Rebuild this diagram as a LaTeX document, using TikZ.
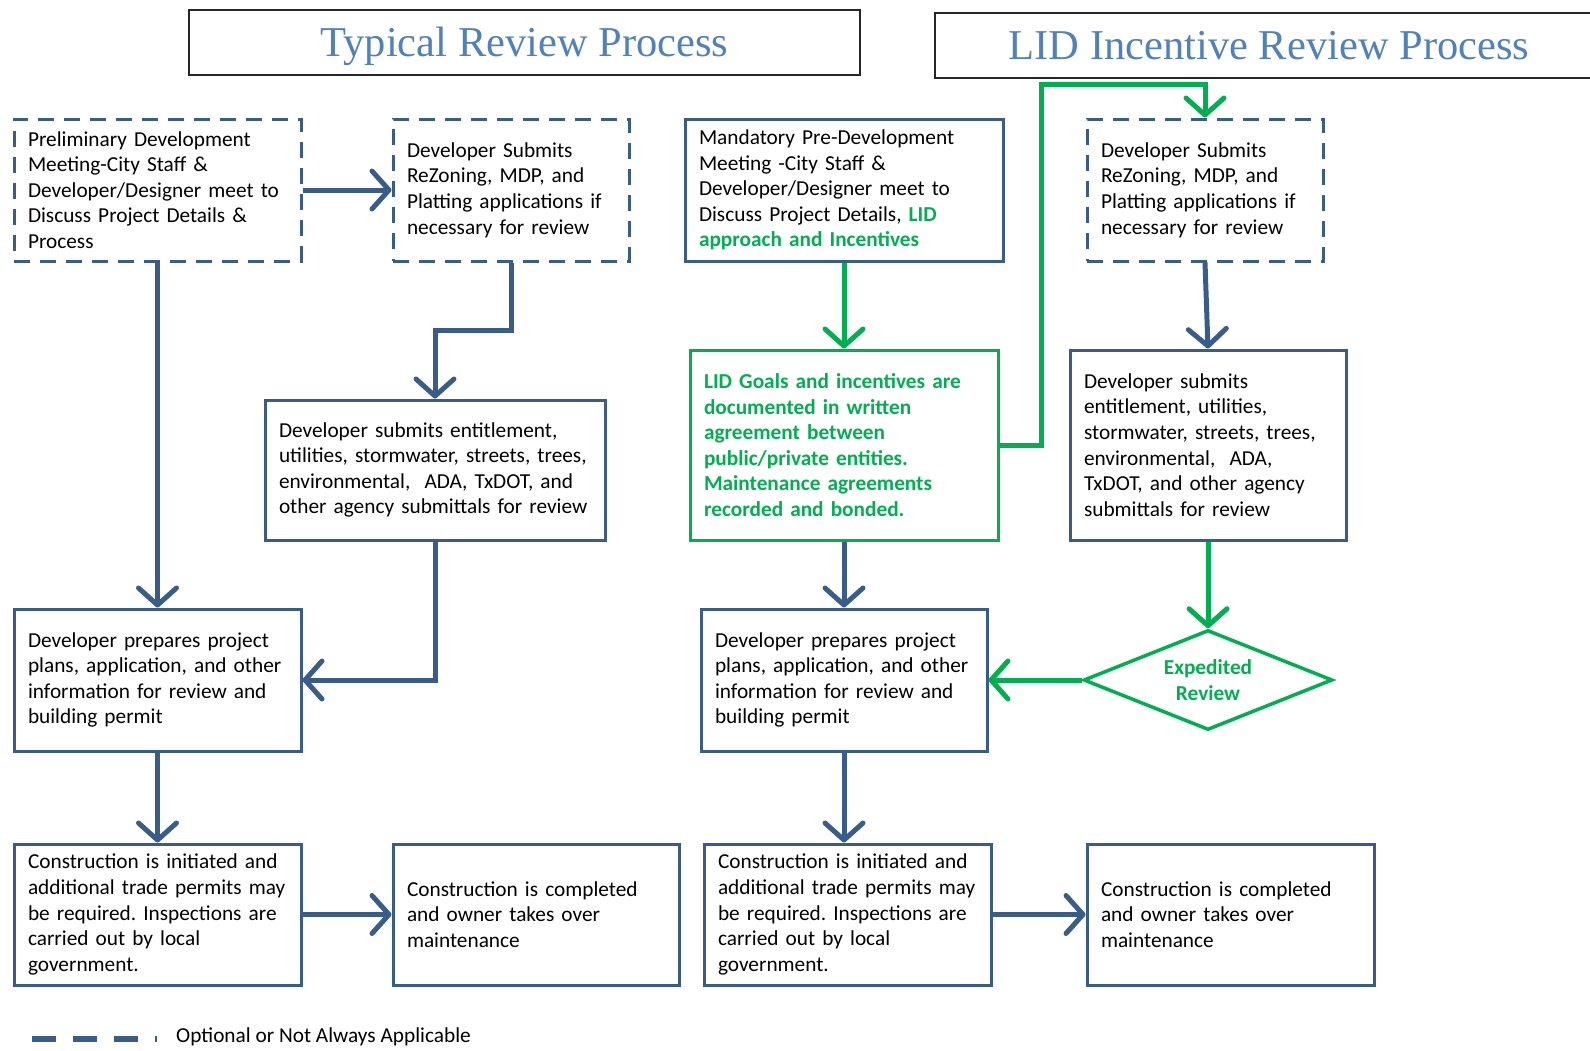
\documentclass[tikz,border=0pt]{standalone}
\usepackage{fontspec}
\setmainfont{Carlito}
\newfontfamily\titlefont{Liberation Serif}
\usepackage{tikz}
\usetikzlibrary{arrows.meta, shapes.geometric}
\definecolor{boxblue}{RGB}{56,93,138}
\definecolor{lidgreen}{RGB}{0,176,80}
\definecolor{titleblue}{RGB}{79,129,189}
\newcommand{\lidtext}[1]{{\color{lidgreen}\bfseries #1}}
\frenchspacing

\begin{document}
\begin{tikzpicture}[x=1pt, y=-1pt,
  every node/.style={font=\fontsize{21.3}{25.6}\selectfont},
  stepbox/.style={draw=boxblue, line width=3pt, align=left, inner xsep=14pt, inner ysep=0pt},
  optbox/.style={stepbox, dash pattern=on 16pt off 10pt},
  lidbox/.style={stepbox, draw=lidgreen, text=lidgreen, font=\fontsize{21.3}{25.6}\selectfont\bfseries},
  titlebox/.style={draw=black!85, line width=1.3pt, text=titleblue, minimum height=65pt,
    text height=28pt, text depth=0pt, font=\titlefont\fontsize{42.5}{48}\selectfont},
  blueflow/.style={boxblue, line width=5pt, -{Straight Barb[length=17pt, width=38pt, round]}},
  greenflow/.style={blueflow, lidgreen}]
  \useasboundingbox (0,0) rectangle (1590,1050);
  % --- titles ------------------------------------------------------
  \node[titlebox, minimum width=671pt] (typtitle) at (524.5,42.5) {Typical Review Process};
  \node[titlebox, minimum width=668pt] (lidtitle) at (1269,45.5) {LID Incentive Review Process};
  % --- typical review process --------------------------------------
  \node[optbox, text width=259pt, minimum height=142pt] (prelim) at (157.5,190)
    {Preliminary Development\\Meeting-City Staff \&\\Developer/Designer meet to\\Discuss Project Details \&\\Process};
  \node[optbox, text width=208pt, minimum height=142pt] (rezone) at (511,190)
    {Developer Submits\\ReZoning, MDP, and\\Platting applications if\\necessary for review};
  \node[stepbox, text width=312pt, minimum height=140pt] (entitle) at (435,470)
    {Developer submits entitlement,\\utilities, stormwater, streets, trees,\\environmental,\ \ ADA, TxDOT, and\\other agency submittals for review};
  \node[stepbox, text width=259pt, minimum height=142pt] (prepare) at (157.5,680)
    {Developer prepares project\\plans, application, and other\\information for review and\\building permit};
  \node[stepbox, text width=259pt, minimum height=141pt] (build) at (157.5,914.5)
    {Construction is initiated and\\additional trade permits may\\be required. Inspections are\\carried out by local\\government.};
  \node[stepbox, text width=258pt, minimum height=141pt] (done) at (536,914.5)
    {Construction is completed\\and owner takes over\\maintenance};
  % --- LID incentive review process --------------------------------
  \node[stepbox, text width=290pt, minimum height=142pt] (lidmeet) at (844,190)
    {Mandatory Pre-Development\\Meeting -City Staff \&\\Developer/Designer meet to\\Discuss Project Details, \lidtext{LID}\\\lidtext{approach and Incentives}};
  \node[optbox, text width=208pt, minimum height=142pt] (lidrezone) at (1205,190)
    {Developer Submits\\ReZoning, MDP, and\\Platting applications if\\necessary for review};
  \node[lidbox, text width=280pt, minimum height=190pt] (lidgoals) at (844,445)
    {LID Goals and incentives are\\documented in written\\agreement between\\public/private entities.\\Maintenance agreements\\recorded and bonded.};
  \node[stepbox, text width=248pt, minimum height=190pt] (lidentitle) at (1208,445)
    {Developer submits\\entitlement, utilities,\\stormwater, streets, trees,\\environmental,\ \ ADA,\\TxDOT, and other agency\\submittals for review};
  \node[stepbox, text width=258pt, minimum height=142pt] (lidprepare) at (844,680)
    {Developer prepares project\\plans, application, and other\\information for review and\\building permit};
  \node[diamond, aspect=2.5, draw=lidgreen, line width=3.5pt, text=lidgreen, align=center, inner sep=0pt,
    minimum width=249pt, minimum height=100pt, font=\fontsize{21.3}{25.6}\selectfont\bfseries] (expedite) at (1208,680)
    {Expedited\\Review};
  \node[stepbox, text width=259pt, minimum height=141pt] (lidbuild) at (847.5,914.5)
    {Construction is initiated and\\additional trade permits may\\be required. Inspections are\\carried out by local\\government.};
  \node[stepbox, text width=259pt, minimum height=141pt] (liddone) at (1230.5,914.5)
    {Construction is completed\\and owner takes over\\maintenance};
  % --- connectors ---------------------------------------------------
  \coordinate (rezonebend) at (511,330);
  \coordinate (lidup) at (1041,84);
  \draw[blueflow] (prelim) -- (rezone);
  \draw[blueflow] (prelim) -- (prepare);
  \draw[blueflow] (rezone.south) -- (rezonebend) -| (entitle.north);
  \draw[blueflow] (entitle.south) |- (prepare.east);
  \draw[blueflow] (prepare) -- (build);
  \draw[blueflow] (build) -- (done);
  \draw[greenflow] (lidmeet) -- (lidgoals);
  \draw[greenflow] (lidgoals.east) -| (lidup) -| (lidrezone.north);
  \draw[blueflow] (lidrezone.south) -- (lidentitle.north);
  \draw[greenflow] (lidentitle) -- (expedite);
  \draw[greenflow] (expedite) -- (lidprepare);
  \draw[blueflow] (lidgoals) -- (lidprepare);
  \draw[blueflow] (lidprepare.south) -- (lidprepare.south |- lidbuild.north);
  \draw[blueflow] (lidbuild.east |- done.east) -- (liddone.west);
  % --- legend -------------------------------------------------------
  \node[anchor=west, inner sep=0pt] (legend) at (176,1037)
    {Optional or Not Always Applicable};
  \coordinate (legstart) at (32,1039);
  \coordinate (legstop) at (157,1039);
  \draw[boxblue, line width=6pt, dash pattern=on 24pt off 17pt] (legstart) -- (legstop);
\end{tikzpicture}
\end{document}
